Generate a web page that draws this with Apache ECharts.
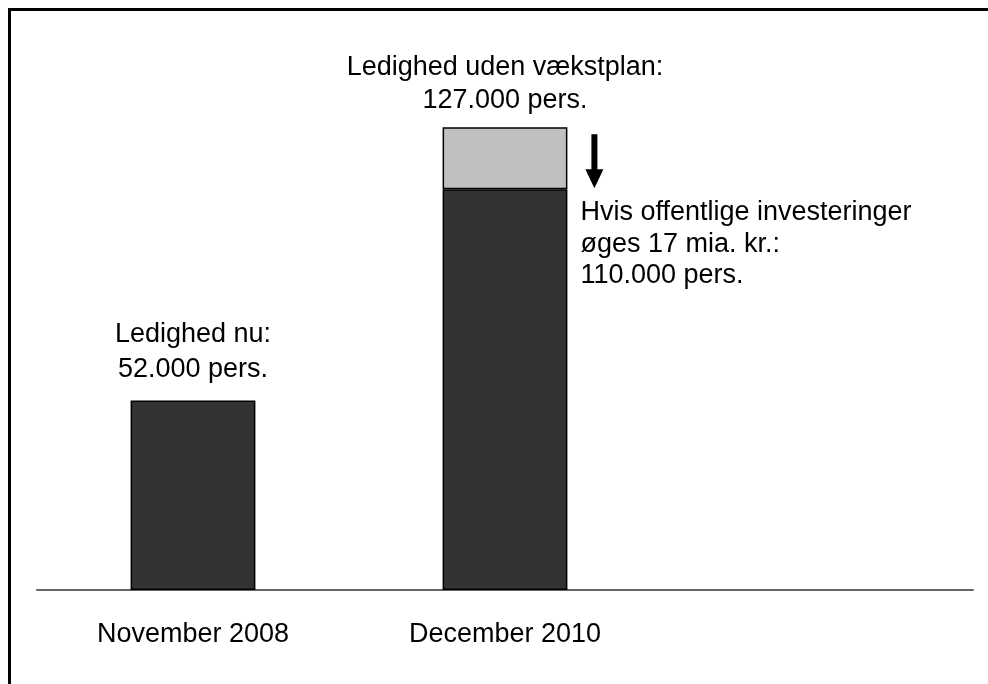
<!DOCTYPE html>
<html>
<head>
<meta charset="utf-8">
<script src="https://cdn.jsdelivr.net/npm/echarts@6/dist/echarts.min.js"></script>
<style>
html,body{margin:0;padding:0;background:#fff;}
#c{width:988px;height:684px;}
</style>
</head>
<body>
<div id="c"></div>
<script>
const categories = ['November 2008', 'December 2010', ''];
const baseValues = [52000, 110000, null];
const extraValues = [null, 17000, null];
const baseLabels = ['Ledighed nu:\n52.000 pers.', '', ''];
const extraLabels = ['', 'Ledighed uden vækstplan:\n127.000 pers.', ''];
const sideNote = 'Hvis offentlige investeringer\nøges 17 mia. kr.:\n110.000 pers.';

const FONT = '"Liberation Sans", Arial, sans-serif';
const FS = 27;
const chart = echarts.init(document.getElementById('c'), null, {renderer: 'canvas'});

const option = {
  animation: false,
  backgroundColor: '#fff',
  grid: {left: 37, right: 15, top: 7, bottom: 94},
  xAxis: {
    type: 'category',
    data: categories,
    axisTick: {show: false},
    axisLine: {lineStyle: {color: '#666666', width: 2}},
    axisLabel: {color: '#000', fontSize: FS, fontFamily: FONT, margin: 31, interval: 0}
  },
  yAxis: {
    type: 'value', min: 0, max: 160000, show: false, splitLine: {show: false}
  },
  series: [
    {
      type: 'bar', stack: 's', barWidth: '40%',
      data: baseValues,
      itemStyle: {color: '#333333', borderColor: '#000', borderWidth: 1.5},
      label: {
        show: true, position: 'top', distance: 13,
        color: '#000', fontSize: FS, fontFamily: FONT, lineHeight: 35,
        formatter: p => baseLabels[p.dataIndex]
      }
    },
    {
      type: 'bar', stack: 's', barWidth: '40%',
      data: extraValues,
      itemStyle: {color: '#c0c0c0', borderColor: '#000', borderWidth: 1.5},
      label: {
        show: true, position: 'top', distance: 10,
        color: '#000', fontSize: FS, fontFamily: FONT, lineHeight: 33,
        formatter: p => extraLabels[p.dataIndex]
      }
    }
  ]
};
chart.setOption(option);

const baseTop = chart.convertToPixel({gridIndex: 0}, [1, baseValues[1]]);
const stackTop = chart.convertToPixel({gridIndex: 0}, [1, baseValues[1] + extraValues[1]]);
const bandW = chart.convertToPixel({gridIndex: 0}, [2, 0])[0] - baseTop[0];
const barRight = baseTop[0] + bandW * 0.2;
const ax = barRight + 27;

chart.setOption({
  graphic: [
    {
      type: 'polyline', silent: true,
      shape: {points: [[9.5, 684], [9.5, 9.5], [988, 9.5]]},
      style: {stroke: '#000', lineWidth: 3, fill: null}
    },
    {
      type: 'rect', silent: true,
      shape: {x: ax - 3, y: stackTop[1] + 7, width: 6, height: baseTop[1] - 19 - (stackTop[1] + 7)},
      style: {fill: '#000'}
    },
    {
      type: 'polygon', silent: true,
      shape: {points: [[ax - 9, baseTop[1] - 20], [ax + 9, baseTop[1] - 20], [ax, baseTop[1] - 1]]},
      style: {fill: '#000'}
    },
    {
      type: 'text', silent: true,
      x: barRight + 13, y: baseTop[1] + 8,
      style: {
        text: sideNote, fill: '#000', fontSize: FS, fontFamily: FONT,
        lineHeight: 31.5, verticalAlign: 'top', align: 'left'
      }
    }
  ]
});
</script>
</body>
</html>
